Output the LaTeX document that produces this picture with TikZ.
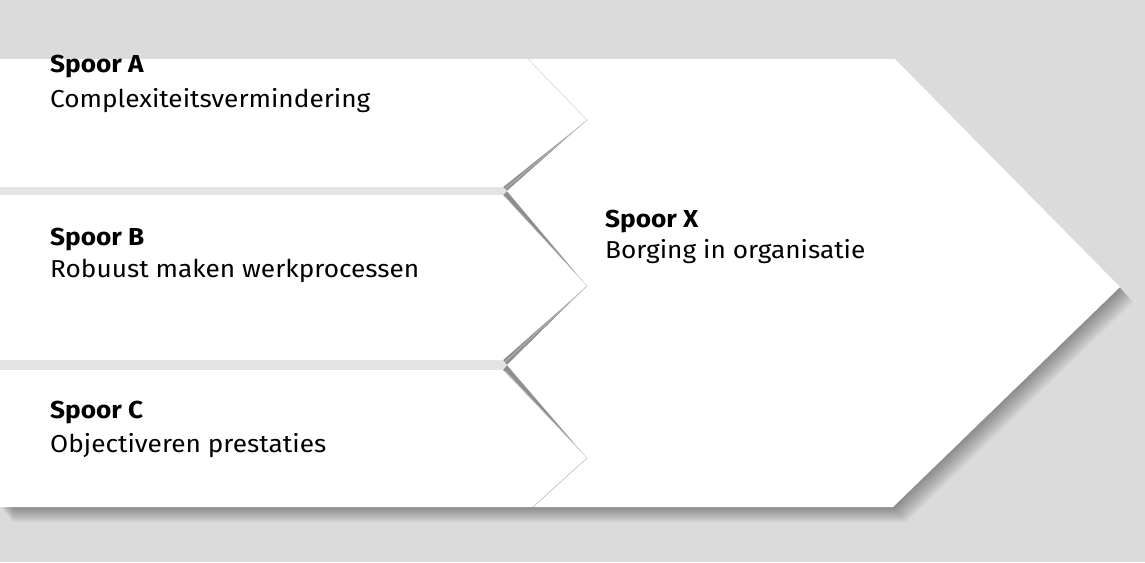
\documentclass[tikz,border=0pt]{standalone}
\usepackage{fontspec}
\setmainfont{Fira Sans}[FakeStretch=1.07]
\definecolor{paper}{gray}{0.86}
\definecolor{seampaper}{gray}{0.89}
\begin{document}
\begin{tikzpicture}[x=1pt,y=-1pt,
  track/.style={fill=white,draw=none},
  seamup/.style={draw=gray!30,line width=0.5pt},
  seamdown/.style={draw=gray!50,line width=0.6pt},
  head/.style={font=\bfseries\fontsize{24.5}{29}\selectfont,anchor=base west,inner sep=0pt},
  body/.style={font=\fontsize{24.5}{29}\selectfont,anchor=base west,inner sep=0pt}]
\useasboundingbox (0,0) rectangle (1145,562);
% paper background
\fill[paper] (0,0) rectangle (1145,562);
% soft drop shadow of the whole arrow block
\foreach \k in {1,...,10}{
  \fill[black,opacity=0.04,shift={(\k*1.3,\k*1.5)}]
    (0,59) -- (895,59) -- (1120,287) -- (893,507) -- (0,507) -- cycle;
}
% gaps between the tracks
\fill[seampaper] (0,187) -- (503,187) -- (507,191) -- (503,195) -- (0,195) -- cycle;
\fill[seampaper] (0,360) -- (503,360) -- (507,365) -- (503,370) -- (0,370) -- cycle;
% the three tracks
\fill[track] (0,59) -- (528,59) -- (587,120) -- (503,187) -- (0,187) -- cycle;
\fill[track] (0,195) -- (503,195) -- (587,286) -- (503,360) -- (0,360) -- cycle;
\fill[track] (0,370) -- (503,370) -- (587,458) -- (533,507) -- (0,507) -- cycle;
% the large arrow they feed into
\fill[track] (528,59) -- (895,59) -- (1120,287) -- (893,507) -- (533,507)
  -- (587,458) -- (507,365) -- (587,286) -- (507,191) -- (587,120) -- cycle;
% seams where the tracks meet the large arrow
\coordinate (a1) at (528,59);  \coordinate (ta) at (587,120); \coordinate (a2) at (505,189);
\coordinate (b1) at (505,197); \coordinate (tb) at (587,286); \coordinate (b2) at (505,362);
\coordinate (c1) at (505,371); \coordinate (tc) at (587,458); \coordinate (c2) at (533,507);
\draw[seamup] (a1) -- (ta);
\draw[seamdown] (ta) -- (a2);
\draw[seamup] (b1) -- (tb);
\draw[seamdown] (tb) -- (b2);
\draw[seamup] (c1) -- (tc);
\draw[seamdown] (tc) -- (c2);
% labels
\node[head] (ha) at (50,72)  {Spoor A};
\node[body] (la) at (50,107) {Complexiteitsvermindering};
\node[head] (hb) at (50,245) {Spoor B};
\node[body] (lb) at (50,277) {Robuust maken werkprocessen};
\node[head] (hc) at (50,418) {Spoor C};
\node[body] (lc) at (50,452) {Objectiveren prestaties};
\node[head] (hx) at (605,227) {Spoor X};
\node[body] (lx) at (605,258) {Borging in organisatie};
\end{tikzpicture}
\end{document}
